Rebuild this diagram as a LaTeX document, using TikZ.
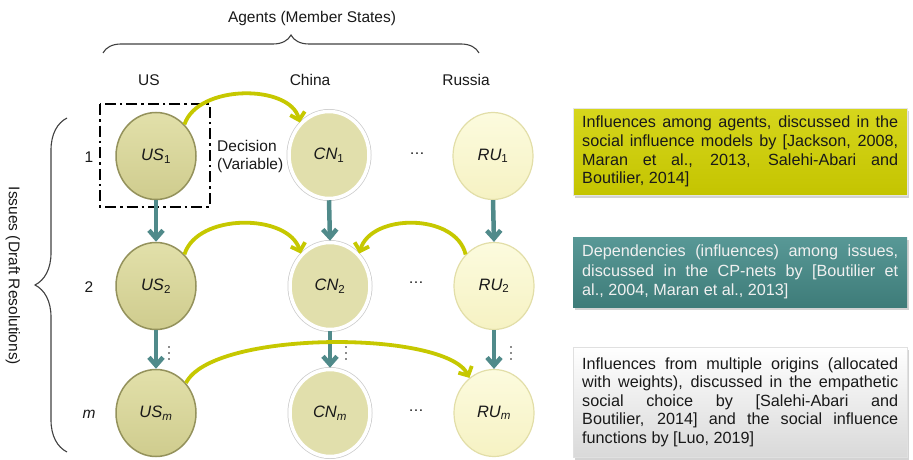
\documentclass[tikz,border=0pt]{standalone}
\usepackage{fontspec}
\setmainfont{Liberation Sans}
\usetikzlibrary{arrows.meta,shapes.geometric,shadows,decorations.pathreplacing}

\definecolor{ustop}{RGB}{226,224,170}
\definecolor{usbot}{RGB}{207,204,142}
\definecolor{usline}{RGB}{148,146,92}
\definecolor{cnfill}{RGB}{225,223,172}
\definecolor{rutop}{RGB}{252,251,222}
\definecolor{rubot}{RGB}{246,242,195}
\definecolor{ruline}{RGB}{226,222,168}
\definecolor{yel}{RGB}{198,200,0}
\definecolor{tealc}{RGB}{80,138,138}
\definecolor{boxytop}{RGB}{214,214,28}
\definecolor{boxybot}{RGB}{196,196,0}
\definecolor{boxttop}{RGB}{88,152,150}
\definecolor{boxtbot}{RGB}{62,124,121}
\definecolor{txtgray}{RGB}{25,25,25}

\newcommand{\jline}[1]{\makebox[316pt][s]{#1}}

\begin{document}
\begin{tikzpicture}[x=1pt,y=-1pt,
  lbl/.style={font=\fontsize{15.5}{18}\selectfont, text=txtgray, inner sep=0pt},
  vnode/.style={ellipse, minimum width=80pt, minimum height=87pt, inner sep=0pt,
    font=\fontsize{16.5}{18}\selectfont\itshape, text=txtgray},
  usnode/.style={vnode, draw=usline, line width=1.5pt, top color=ustop, bottom color=usbot},
  cnnode/.style={vnode, draw=white, line width=3.5pt, fill=cnfill,
    preaction={draw=black!20, line width=5pt}},
  runode/.style={vnode, draw=ruline, line width=1.2pt, top color=rutop, bottom color=rubot},
  yarrow/.style={draw=yel, line width=3.8pt, -{Straight Barb[length=7pt,width=15pt]}},
  tarrow/.style={draw=tealc, line width=4.5pt, -{Straight Barb[length=8pt,width=14pt]}},
  vdot/.style={fill=txtgray, circle, inner sep=0pt, minimum size=1.8pt},
  infobox/.style={rectangle, anchor=north west, inner xsep=8pt, inner ysep=3pt,
    minimum width=334pt, align=left, font=\fontsize{16.2}{18.6}\selectfont,
    drop shadow={shadow xshift=2pt, shadow yshift=-3pt, opacity=0.35}},
  bracepath/.style={draw=black!75, line width=1.1pt, decorate}
]
\useasboundingbox (0,0) rectangle (913,460);

% agent axis
\node[lbl] (agents) at (312,18) {Agents (Member States)};
\draw[bracepath, decoration={brace, amplitude=18pt}] (103,53) -- (479,53);
\node[lbl] (colus) at (149,80) {US};
\node[lbl] (colcn) at (310,80) {China};
\node[lbl] (colru) at (466,80) {Russia};

% issue axis
\draw[bracepath, decoration={brace, amplitude=32pt}] (67,452) -- (67,118);
\node[lbl, rotate=-90] (issues) at (13,276) {Issues (Draft Resolutions)};
\node[lbl] (row1) at (89,157) {1};
\node[lbl] (row2) at (89,287) {2};
\node[lbl, font=\fontsize{15.5}{18}\selectfont\itshape] (rowm) at (89,414) {m};

% decision variables
\node[usnode] (us1) at (156,156) {US\textsubscript{\upshape 1}};
\node[usnode] (us2) at (156,286) {US\textsubscript{\upshape 2}};
\node[usnode] (usm) at (156,413) {US\textsubscript{m}};
\node[cnnode] (cn1) at (329,155) {CN\textsubscript{\upshape 1}};
\node[cnnode] (cn2) at (330,286) {CN\textsubscript{\upshape 2}};
\node[cnnode] (cnm) at (330,413) {CN\textsubscript{m}};
\node[runode] (ru1) at (493,156) {RU\textsubscript{\upshape 1}};
\node[runode] (ru2) at (494,286) {RU\textsubscript{\upshape 2}};
\node[runode] (rum) at (494,413) {RU\textsubscript{m}};

% one decision variable
\draw[line width=2.6pt, dash pattern=on 11pt off 4pt on 2.6pt off 4pt] (100,104) rectangle (210,207);
\node[lbl, align=left, anchor=west] (decision) at (217,156) {Decision\\(Variable)};

% ellipsis marks
\node[lbl] (hd1) at (417,154) {\ldots};
\node[lbl] (hd2) at (416,283) {\ldots};
\node[lbl] (hdm) at (416,411) {\ldots};
\foreach \x/\n in {169/us, 346/cn, 511/ru} {
  \foreach \y/\k in {347/a, 353/b, 359/c}
    \node[vdot] (vd\n\k) at (\x,\y) {};
}

% dependencies among issues
\draw[tarrow] (us1.south) -- (us2.north);
\draw[tarrow] (us2.south) -- (usm.north);
\draw[tarrow] (cn1.south) -- (cn2.north);
\draw[tarrow] (cn2.south) -- (cnm.north);
\draw[tarrow] (ru1.south) -- (ru2.north);
\draw[tarrow] (ru2.south) -- (rum.north);

% influences among agents
\draw[yarrow] (us1.48) .. controls (198,84) and (290,84) .. (cn1.132);
\draw[yarrow] (us2.48) .. controls (197,213) and (288,213) .. (cn2.132);
\draw[yarrow] (ru2.132) .. controls (456,213) and (371,213) .. (cn2.48);
\draw[yarrow] (usm.45) .. controls (212,330) and (445,330) .. (rum.125);

% legend boxes
\node[infobox, top color=boxytop, bottom color=boxybot, draw=black!10, minimum height=87pt,
  text=txtgray] (box1) at (573,108)
  {\jline{Influences among agents, discussed in the}\\
   \jline{social influence models by [Jackson, 2008,}\\
   \jline{Maran et al., 2013, Salehi-Abari and}\\
   Boutilier, 2014]};
\node[infobox, top color=boxttop, bottom color=boxtbot, minimum height=70pt,
  text=white!94!black, font=\fontsize{16.2}{19.5}\selectfont] (box2) at (573,237)
  {\jline{Dependencies (influences) among issues,}\\
   \jline{discussed in the CP-nets by [Boutilier et}\\
   al., 2004, Maran et al., 2013]};
\node[infobox, top color=white, bottom color=black!15, draw=black!12, minimum height=110pt,
  text=txtgray] (box3) at (573,347)
  {\jline{Influences from multiple origins (allocated}\\
   \jline{with weights), discussed in the empathetic}\\
   \jline{social choice by [Salehi-Abari and}\\
   \jline{Boutilier, 2014] and the social influence}\\
   functions by [Luo, 2019]};
\end{tikzpicture}
\end{document}
